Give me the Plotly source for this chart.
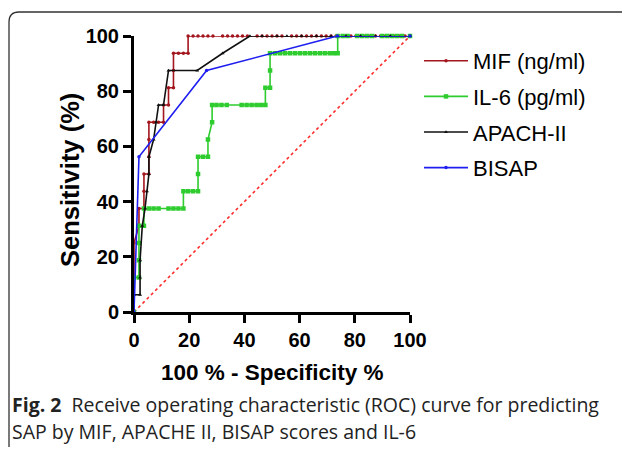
import plotly.graph_objects as go

# ---------------- data ----------------
mif_x = [0, 0, 1.8, 1.8, 3.6, 3.6, 3.6, 5.4, 5.4, 5.4, 5.4, 7.1, 8.9, 10.7, 10.7, 12.5, 12.5, 14.3, 14.3, 14.3,
         16.1, 17.9, 19.6, 19.6, 21.4, 23.2, 25.0, 26.8, 28.6, 32.1, 33.9, 35.7, 37.5, 39.3, 41.1, 44.6, 46.4,
         48.2, 50.0, 51.8, 53.6, 57.1, 58.9, 60.7, 62.5, 64.3, 66.1, 67.9, 69.6, 71.4, 73.2, 76.8, 78.6, 80.4,
         82.1, 83.9, 85.7, 87.5, 89.3, 91.1, 92.9, 94.6, 96.4, 98.2, 100]
mif_y = [0, 25, 31.25, 37.5, 37.5, 43.75, 50, 50, 56.25, 62.5, 68.75, 68.75, 68.75, 68.75, 75, 75, 81.25, 81.25,
         87.5, 93.75, 93.75, 93.75, 93.75, 100] + [100] * 41

il6_x = [0, 0, 1.8, 1.8, 1.8, 1.8, 3.6, 3.6, 5.4, 7.1, 8.9, 12.5, 14.3, 16.1, 17.9, 17.9, 19.6, 21.4, 23.2,
         23.2, 23.2, 25.0, 26.8, 26.8, 28.3, 28.3, 29.9, 31.7, 33.6, 39.0, 40.8, 42.6, 44.4, 46.0, 47.6, 47.6,
         49.3, 49.3, 49.3, 51.1, 52.9, 54.7, 56.5, 58.3, 60.1, 61.9, 63.7, 65.5, 67.3, 69.1, 70.9, 72.5, 73.8,
         73.8, 75.6, 77.4, 80.9, 82.7, 84.5, 86.3, 89.9, 91.7, 93.5, 95.3, 97.1, 100]
il6_y = [0, 12.5, 12.5, 18.75, 25, 31.25, 31.25, 37.5, 37.5, 37.5, 37.5, 37.5, 37.5, 37.5, 37.5, 43.75, 43.75,
         43.75, 43.75, 50, 56.25, 56.25, 56.25, 62.5, 68.75, 75, 75, 75, 75, 75, 75, 75, 75, 75, 75, 81.25,
         81.25, 87.5, 93.75, 93.75, 93.75, 93.75, 93.75, 93.75, 93.75, 93.75, 93.75, 93.75, 93.75, 93.75,
         93.75, 93.75, 93.75, 100] + [100] * 12

apa_x = [0, 0, 2.2, 2.2, 2.2, 3.0, 4.0, 4.7, 5.4, 5.4, 7.1, 8.0, 8.9, 10.7, 12.5, 22.9, 32.1, 42.0,
         46.4, 51.8, 55.4, 60.7, 66.1, 71.4, 76.8, 82.1, 87.5, 92.9, 100]
apa_y = [0, 6.25, 6.25, 12.5, 18.75, 31.25, 37.5, 43.75, 50, 56.25, 62.5, 68.75, 75, 75, 87.5, 87.5, 93.75,
         100, 100, 100, 100, 100, 100, 100, 100, 100, 100, 100, 100]

bis_x = [0, 1.8, 26.3, 73.7, 100]
bis_y = [0, 56.25, 87.5, 100, 100]

ref_x = [0, 100]
ref_y = [0, 100]

names = ["MIF (ng/ml)", "IL-6 (pg/ml)", "APACH-II", "BISAP"]
colors = ["#A3161E", "#2ECC2E", "#111111", "#1E1EF0"]
xticks = [0, 20, 40, 60, 80, 100]
yticks = [0, 20, 40, 60, 80, 100]

# ---------------- geometry ----------------
# the page body has an 8px margin, so the figure is drawn 8px smaller / shifted
OFF = 8
W, H = 630 - OFF, 449 - OFF
L, R, T, B = 134, 410, 36, 312  # plot area in reference pixels


def xp(px):
    return (px - L) / (R - L)


def yp(py):
    return (B - py) / (B - T)


fig = go.Figure()

fig.add_trace(go.Scatter(x=ref_x, y=ref_y, mode="lines", showlegend=False, hoverinfo="skip",
                         line=dict(color="#FF2A2A", width=1.6, dash="dot")))

series = [(mif_x, mif_y, 3.5, "circle"), (il6_x, il6_y, 4.5, "square"),
          (apa_x, apa_y, 3.5, "triangle-up"), (bis_x, bis_y, 3.5, "circle")]
for i, (sx, sy, ms, sym) in enumerate(series):
    fig.add_trace(go.Scatter(x=sx, y=sy, mode="lines+markers", name=names[i], legendgroup=names[i],
                             line=dict(color=colors[i], width=1.6),
                             marker=dict(color=colors[i], size=ms, symbol=sym),
                             cliponaxis=False))

FONT = "Liberation Sans, Arial, sans-serif"
axis_font = dict(family=FONT, size=20, color="black", weight="bold")

fig.update_xaxes(range=[0, 100], tickvals=xticks, ticktext=[str(v) for v in xticks],
                 showline=True, linewidth=3, linecolor="black", ticks="outside", ticklen=8,
                 tickwidth=3, tickcolor="black", showgrid=False, zeroline=False, tickfont=axis_font)
fig.update_yaxes(range=[0, 100], tickvals=yticks, ticktext=[str(v) for v in yticks],
                 showline=True, linewidth=3, linecolor="black", ticks="outside", ticklen=8,
                 tickwidth=3, tickcolor="black", showgrid=False, zeroline=False, tickfont=axis_font)

# axis titles
fig.add_annotation(xref="paper", yref="paper", x=xp(272), y=yp(372), xanchor="center", yanchor="middle",
                   showarrow=False, text="<b>100 % - Specificity %</b>",
                   font=dict(family=FONT, size=22.5, color="black"))
fig.add_annotation(xref="paper", yref="paper", x=xp(70), y=yp(180), xanchor="center", yanchor="middle",
                   showarrow=False, textangle=-90, text="<b>Sensitivity (%)</b>",
                   font=dict(family=FONT, size=25.5, color="black"))

# figure frame (rounded panel border)
x0, x1 = xp(9), xp(629)
y0, y1 = yp(447), yp(12)
rx, ry = 10 / (R - L), 10 / (B - T)
path = (f"M {x0},{y0} L {x0},{y1 - ry} Q {x0},{y1} {x0 + rx},{y1} "
        f"L {x1 - 0.3 * rx},{y1} Q {x1},{y1} {x1},{y1 - 0.3 * ry}")
fig.add_shape(type="path", path=path, xref="paper", yref="paper",
              line=dict(color="#333333", width=1.3))

cap_font = dict(family="Open Sans", size=19.5, color="#222222")
fig.add_annotation(xref="paper", yref="paper", x=xp(10), y=yp(404), xanchor="left", yanchor="middle",
                   showarrow=False, font=cap_font,
                   text="<b>Fig. 2</b>  Receive operating characteristic (ROC) curve for predicting")
fig.add_annotation(xref="paper", yref="paper", x=xp(10), y=yp(431), xanchor="left", yanchor="middle",
                   showarrow=False, font=cap_font,
                   text="SAP by MIF, APACHE II, BISAP scores and IL-6")

fig.update_layout(
    width=W, height=H,
    margin=dict(l=L - OFF, r=630 - R, t=T - OFF, b=449 - B, pad=0),
    paper_bgcolor="white", plot_bgcolor="white",
    showlegend=True,
    legend=dict(x=xp(419), y=yp(40), xanchor="left", yanchor="top",
                font=dict(family=FONT, size=22, color="black"),
                itemwidth=44, tracegroupgap=4, bgcolor="rgba(0,0,0,0)", itemclick=False),
)

fig.write_html("out.html")
